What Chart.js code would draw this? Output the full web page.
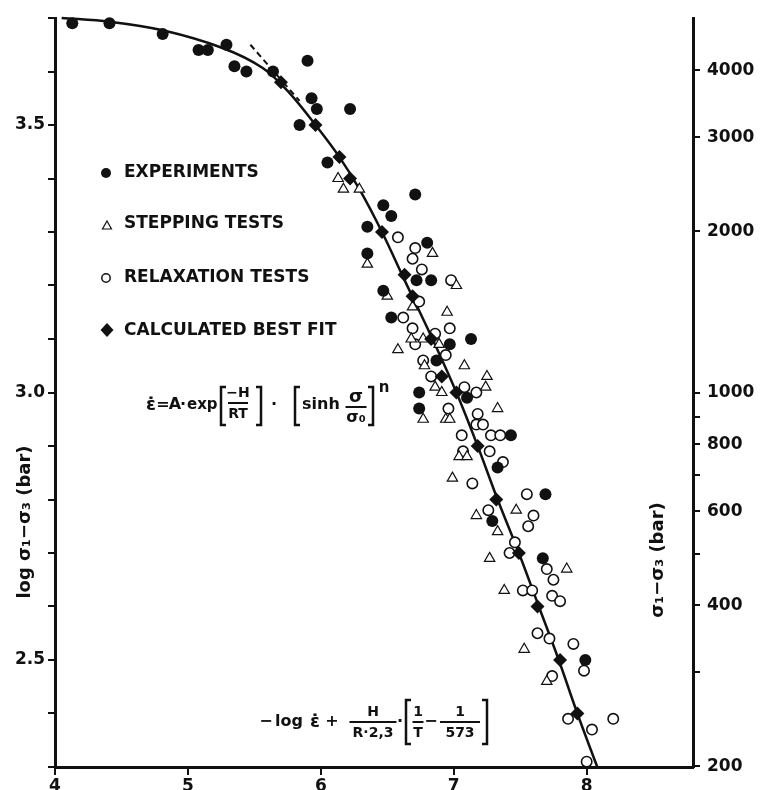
<!DOCTYPE html>
<html>
<head>
<meta charset="utf-8">
<script src="https://cdn.jsdelivr.net/npm/chart.js@4.4.1/dist/chart.umd.min.js"></script>
<style>
  html, body { margin: 0; padding: 0; background: #fff; overflow: hidden; }
  #wrap { width: 760px; height: 790px; }
</style>
</head>
<body>
<div id="wrap"><canvas id="chart" width="760" height="790"></canvas></div>
<script>
// experiments (filled circles)
const expX = [4.13, 4.41, 4.81, 5.08, 5.15, 5.29, 5.35, 5.44, 5.64, 5.90, 5.93, 5.97, 5.84, 6.22, 6.05,
  6.35, 6.35, 6.47, 6.53, 6.71, 6.80, 6.72, 6.83, 6.47, 6.53, 6.97, 7.13, 6.87, 6.74, 7.10,
  6.74, 7.43, 7.33, 7.69, 7.29, 7.67, 7.99];
const expY = [3.69, 3.69, 3.67, 3.64, 3.64, 3.65, 3.61, 3.60, 3.60, 3.62, 3.55, 3.53, 3.50, 3.53, 3.43,
  3.31, 3.26, 3.35, 3.33, 3.37, 3.28, 3.21, 3.21, 3.19, 3.14, 3.09, 3.10, 3.06, 3.00, 2.99,
  2.97, 2.92, 2.86, 2.81, 2.76, 2.69, 2.50];

// stepping tests (open triangles)
const stepX = [6.13, 6.17, 6.29, 6.35, 6.84, 6.50, 7.02, 6.69, 6.95, 6.68, 6.77, 6.89, 6.58, 6.78, 7.08,
  7.25, 6.86, 6.91, 7.24, 7.33, 6.77, 6.94, 6.97, 7.04, 7.10, 6.99, 7.17, 7.47, 7.33, 7.27,
  7.85, 7.38, 7.53, 7.70];
const stepY = [3.40, 3.38, 3.38, 3.24, 3.26, 3.18, 3.20, 3.16, 3.15, 3.10, 3.10, 3.09, 3.08, 3.05, 3.05,
  3.03, 3.01, 3.00, 3.01, 2.97, 2.95, 2.95, 2.95, 2.88, 2.88, 2.84, 2.77, 2.78, 2.74, 2.69,
  2.67, 2.63, 2.52, 2.46];

// relaxation tests (open circles)
const relaxX = [6.58, 6.71, 6.69, 6.76, 6.98, 6.74, 6.62, 6.69, 6.97, 6.86, 6.71, 6.77, 6.94, 6.83, 7.08,
  7.17, 6.96, 7.18, 7.17, 7.22, 7.06, 7.28, 7.35, 7.07, 7.27, 7.37, 7.14, 7.55, 7.26, 7.60,
  7.56, 7.46, 7.42, 7.70, 7.75, 7.52, 7.59, 7.74, 7.80, 7.63, 7.72, 7.90, 7.98, 7.74, 7.86,
  8.04, 8.20, 8.00];
const relaxY = [3.29, 3.27, 3.25, 3.23, 3.21, 3.17, 3.14, 3.12, 3.12, 3.11, 3.09, 3.06, 3.07, 3.03, 3.01,
  3.00, 2.97, 2.96, 2.94, 2.94, 2.92, 2.92, 2.92, 2.89, 2.89, 2.87, 2.83, 2.81, 2.78, 2.77,
  2.75, 2.72, 2.70, 2.67, 2.65, 2.63, 2.63, 2.62, 2.61, 2.55, 2.54, 2.53, 2.48, 2.47, 2.39,
  2.37, 2.39, 2.31];

// calculated best fit (diamonds)
const fitX = [5.70, 5.96, 6.14, 6.22, 6.46, 6.63, 6.69, 6.83, 6.91, 7.02, 7.18, 7.32, 7.49, 7.63, 7.80, 7.93];
const fitY = [3.58, 3.50, 3.44, 3.40, 3.30, 3.22, 3.18, 3.10, 3.03, 3.00, 2.90, 2.80, 2.70, 2.60, 2.50, 2.40];

// fitted curve and the short dashed tangent
const curveX = [4.05, 4.41, 4.81, 5.26, 5.56, 5.76, 5.96, 6.14, 6.29, 6.46, 6.63, 6.84, 7.02, 7.18, 7.33, 7.49, 7.64, 7.79, 7.93, 8.08];
const curveY = [3.70, 3.693, 3.677, 3.644, 3.607, 3.561, 3.50, 3.44, 3.38, 3.30, 3.21, 3.10, 3.00, 2.90, 2.80, 2.70, 2.60, 2.50, 2.40, 2.30];
const dashX = [5.47, 5.84];
const dashY = [3.65, 3.545];

// axes
const xTicks = [4, 5, 6, 7, 8];
const leftLabels = ['2.5', '3.0', '3.5'];
const rightTicks = [200, 300, 400, 500, 600, 700, 800, 900, 1000, 2000, 3000, 4000];
const rightLabels = [200, 400, 600, 800, 1000, 2000, 3000, 4000];

const ink = '#111';
const FONT = '"DejaVu Sans", sans-serif';

function pts(xs, ys) {
  return xs.map((x, i) => ({ x: x, y: ys[i] }));
}

function bracket(ctx, x, y0, y1, dir) {
  ctx.beginPath();
  ctx.moveTo(x + dir * 5, y0);
  ctx.lineTo(x, y0);
  ctx.lineTo(x, y1);
  ctx.lineTo(x + dir * 5, y1);
  ctx.stroke();
}

function frac(ctx, num, den, cx, y, w, numFont, denFont) {
  ctx.textAlign = 'center';
  ctx.font = numFont;
  ctx.fillText(num, cx, y - 10);
  ctx.font = denFont || numFont;
  ctx.fillText(den, cx, y + 11);
  ctx.lineWidth = 2;
  ctx.beginPath();
  ctx.moveTo(cx - w / 2, y);
  ctx.lineTo(cx + w / 2, y);
  ctx.stroke();
}

function put(ctx, txt, x, y, font, align) {
  ctx.font = font;
  ctx.textAlign = align || 'center';
  ctx.fillText(txt, x, y);
}

// titles, legend and the two formulas
const decorations = {
  id: 'decorations',
  afterDraw(chart) {
    const ctx = chart.ctx;
    ctx.save();
    ctx.fillStyle = ink;
    ctx.strokeStyle = ink;
    ctx.textBaseline = 'middle';

    // axis titles
    ctx.font = 'bold 18px ' + FONT;
    ctx.textAlign = 'center';
    ctx.save();
    ctx.translate(25, 522);
    ctx.rotate(-Math.PI / 2);
    ctx.fillText('log σ₁−σ₃ (bar)', 0, 0);
    ctx.restore();
    ctx.save();
    ctx.translate(658, 560);
    ctx.rotate(-Math.PI / 2);
    ctx.fillText('σ₁−σ₃ (bar)', 0, 0);
    ctx.restore();

    // legend
    const lx = 106;
    ctx.beginPath(); ctx.arc(lx, 173, 5, 0, Math.PI * 2); ctx.fill();
    ctx.lineWidth = 1.2;
    ctx.beginPath(); ctx.moveTo(lx + 1, 221); ctx.lineTo(lx + 5.5, 229); ctx.lineTo(lx - 3.5, 229); ctx.closePath(); ctx.stroke();
    ctx.lineWidth = 1.5;
    ctx.beginPath(); ctx.arc(lx, 278, 4.2, 0, Math.PI * 2); ctx.stroke();
    ctx.beginPath(); ctx.moveTo(lx + 1, 323); ctx.lineTo(lx + 7.5, 330); ctx.lineTo(lx + 1, 337); ctx.lineTo(lx - 5.5, 330); ctx.closePath(); ctx.fill();
    ctx.font = 'bold 17px ' + FONT;
    ctx.textAlign = 'left';
    ctx.fillText('EXPERIMENTS', 124, 173);
    ctx.fillText('STEPPING TESTS', 124, 224);
    ctx.fillText('RELAXATION TESTS', 124, 278);
    ctx.fillText('CALCULATED BEST FIT', 124, 331);

    // creep law
    const f16 = 'bold 16px ' + FONT;
    const f14 = 'bold 14px ' + FONT;
    ctx.lineWidth = 2.5;
    put(ctx, 'ε̇', 151, 405, 'bold 18px ' + FONT);
    put(ctx, '=', 163, 405, f16);
    put(ctx, 'A', 175, 405, f16);
    put(ctx, '·', 183, 405, f16);
    put(ctx, 'exp', 187, 405, 'bold 15px ' + FONT, 'left');
    ctx.lineWidth = 2.5;
    bracket(ctx, 221, 387, 425, 1);
    frac(ctx, '−H', 'RT', 238, 403, 20, f14);
    ctx.lineWidth = 2.5;
    bracket(ctx, 261, 387, 425, -1);
    put(ctx, '·', 274, 405, f16);
    bracket(ctx, 295, 387, 425, 1);
    put(ctx, 'sinh', 302, 405, f16, 'left');
    frac(ctx, 'σ', 'σ₀', 356, 407, 21, 'bold 18px ' + FONT, f16);
    ctx.lineWidth = 2.5;
    bracket(ctx, 373, 387, 425, -1);
    put(ctx, 'n', 384, 388, 'bold 15px ' + FONT);

    // x-axis quantity
    put(ctx, '−', 266, 722, f16);
    put(ctx, 'log', 275, 722, f16, 'left');
    put(ctx, 'ε̇', 315, 722, 'bold 18px ' + FONT);
    put(ctx, '+', 332, 722, f16);
    frac(ctx, 'H', 'R·2,3', 373, 722, 47, f14);
    put(ctx, '·', 400, 722, f16);
    ctx.lineWidth = 2.5;
    bracket(ctx, 406, 700, 744, 1);
    frac(ctx, '1', 'T', 418, 722, 11, f14);
    put(ctx, '−', 431, 722, f16);
    frac(ctx, '1', '573', 460, 722, 40, f14);
    ctx.lineWidth = 2.5;
    bracket(ctx, 487, 700, 744, -1);

    ctx.restore();
  }
};

const tickFont = { family: FONT, size: 17, weight: 'bold' };

new Chart(document.getElementById('chart'), {
  type: 'scatter',
  data: {
    datasets: [
      {
        label: 'fit curve',
        data: pts(curveX, curveY),
        showLine: true,
        borderColor: ink,
        borderWidth: 2.5,
        pointRadius: 0,
        tension: 0.35,
        clip: false,
        order: 6
      },
      {
        label: 'tangent',
        data: pts(dashX, dashY),
        showLine: true,
        borderColor: ink,
        borderWidth: 2,
        borderDash: [6, 4],
        pointRadius: 0,
        clip: false,
        order: 6
      },
      {
        label: 'RELAXATION TESTS',
        data: pts(relaxX, relaxY),
        pointStyle: 'circle',
        pointRadius: 5.2,
        pointBorderWidth: 1.6,
        pointBackgroundColor: '#fff',
        pointBorderColor: ink,
        clip: false,
        order: 4
      },
      {
        label: 'STEPPING TESTS',
        data: pts(stepX, stepY),
        pointStyle: 'triangle',
        pointRadius: 6,
        pointBorderWidth: 1.2,
        pointBackgroundColor: '#fff',
        pointBorderColor: ink,
        clip: false,
        order: 3
      },
      {
        label: 'EXPERIMENTS',
        data: pts(expX, expY),
        pointStyle: 'circle',
        pointRadius: 6,
        pointBorderWidth: 0,
        pointBackgroundColor: ink,
        clip: false,
        order: 2
      },
      {
        label: 'CALCULATED BEST FIT',
        data: pts(fitX, fitY),
        pointStyle: 'rectRot',
        pointRadius: 7,
        pointBorderWidth: 0,
        pointBackgroundColor: ink,
        clip: false,
        order: 1
      }
    ]
  },
  options: {
    responsive: false,
    animation: false,
    layout: { padding: { top: 18, left: 0, right: 0, bottom: 0 } },
    plugins: {
      legend: { display: false },
      tooltip: { enabled: false }
    },
    scales: {
      x: {
        type: 'linear',
        position: 'bottom',
        min: 4,
        max: 8.8,
        afterBuildTicks: s => { s.ticks = xTicks.map(v => ({ value: v })); },
        afterFit: s => { s.height = 23; },
        ticks: { font: tickFont, color: ink, padding: 1, maxRotation: 0, autoSkip: false },
        grid: { drawOnChartArea: false, drawTicks: true, tickLength: 8, color: ink, lineWidth: 2 },
        border: { display: true, color: ink, width: 3 }
      },
      y: {
        type: 'linear',
        position: 'left',
        min: 2.3,
        max: 3.7,
        afterBuildTicks: s => {
          const t = [];
          for (let k = 23; k <= 37; k++) t.push({ value: k / 10 });
          s.ticks = t;
        },
        afterFit: s => { s.width = 55; },
        ticks: {
          font: tickFont,
          color: ink,
          padding: 3,
          autoSkip: false,
          callback: v => {
            const s = v.toFixed(1);
            return leftLabels.includes(s) ? s : '';
          }
        },
        grid: { drawOnChartArea: false, drawTicks: true, tickLength: 7, color: ink, lineWidth: 2 },
        border: { display: true, color: ink, width: 3 }
      },
      y2: {
        type: 'logarithmic',
        position: 'right',
        min: Math.pow(10, 2.3),
        max: Math.pow(10, 3.7),
        afterBuildTicks: s => { s.ticks = rightTicks.map(v => ({ value: v })); },
        afterFit: s => { s.width = 67; },
        ticks: {
          font: tickFont,
          color: ink,
          padding: 7,
          autoSkip: false,
          callback: v => rightLabels.includes(v) ? String(v) : ''
        },
        grid: { drawOnChartArea: false, drawTicks: true, tickLength: 7, color: ink, lineWidth: 2 },
        border: { display: true, color: ink, width: 3 }
      }
    }
  },
  plugins: [decorations]
});
</script>
</body>
</html>
